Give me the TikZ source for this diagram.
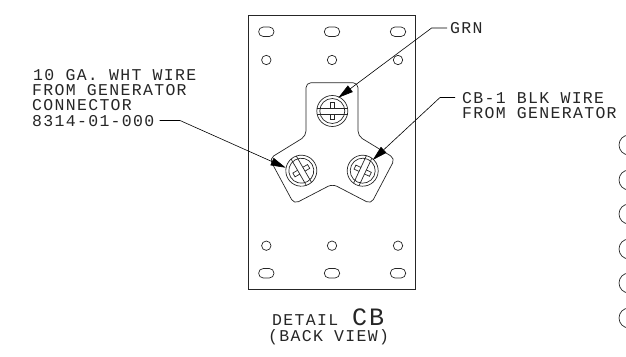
\documentclass[tikz,border=0pt]{standalone}
\usepackage{fontspec}
\setmainfont{Liberation Mono}[LetterSpace=8]
\usetikzlibrary{arrows.meta}
\tikzset{
	part/.style={line width=0.7pt, black!85},
	slot/.style={part, rounded corners=4.7pt},
	label/.style={anchor=base west, inner sep=0pt, font=\fontsize{16.5}{16.5}\selectfont, text=black!85},
	leader/.style={line width=0.6pt, -{Triangle[length=15pt,width=8pt]}},
	screw/.pic={
		\draw[part] (0,0) circle (15.5);
		\draw[part] (0,0) circle (12.5);
		\draw[part] (-15.2,-3) -- (15.2,-3);
		\draw[part] (-15.2,3) -- (15.2,3);
		\draw[part] (-2.2,-3) -- (-2.2,-8.5) -- (2.2,-8.5) -- (2.2,-3);
		\draw[part] (-2.2,3) -- (-2.2,8.5) -- (2.2,8.5) -- (2.2,3);
	}
}
\begin{document}
\begin{tikzpicture}[x=1pt, y=-1pt]
	\useasboundingbox (0,0) rectangle (626,356);

	% plate
	\draw[part] (248,15.5) rectangle (415.5,289.5);

	\draw[slot] (258.6,27) rectangle (274,36.5);
	\draw[slot] (324.3,27) rectangle (339.7,36.5);
	\draw[slot] (390.3,27) rectangle (405.7,36.5);
	\draw[part] (266.3,60) circle (4.7);
	\draw[part] (332,60) circle (4.7);
	\draw[part] (398,60) circle (4.7);

	\draw[part] (266.3,245.7) circle (4.7);
	\draw[part] (332,245.7) circle (4.7);
	\draw[part] (398,245.7) circle (4.7);
	\draw[slot] (258.6,268.5) rectangle (274,278);
	\draw[slot] (324.3,268.5) rectangle (339.7,278);
	\draw[slot] (390.3,268.5) rectangle (405.7,278);

	% bracket
	\draw[part, rounded corners=5pt] (306,82.7) -- (358,82.7) -- (358,136)
		-- (395,158.5) -- (371,204) -- (332.5,184) -- (294,204)
		-- (269.5,158.5) -- (306,136) -- cycle;

	\pic at (332.3,111) {screw};
	\pic[rotate=-60] at (301.3,170.7) {screw};
	\pic[rotate=65] at (362.7,170.7) {screw};

	% labels
	\node[label] (wirea) at (33,80) {10 GA. WHT WIRE};
	\node[label] (wireb) at (32,95) {FROM GENERATOR};
	\node[label] (wirec) at (32,110) {CONNECTOR};
	\node[label] (wired) at (32,126) {8314-01-000};
	\node[label] (grn) at (450,33) {GRN};
	\node[label] (blka) at (462,103.3) {CB-1 BLK WIRE};
	\node[label] (blkb) at (462,118.3) {FROM GENERATOR};
	\node[label] (detail) at (272,325) {DETAIL};
	\node[label, font=\fontsize{25}{25}\selectfont] (cb) at (352,325) {CB};
	\node[label] (back) at (268,341) {(BACK VIEW)};

	% leaders
	\coordinate (wireknee) at (180,120.5);
	\coordinate (wiretip) at (285.7,167.7);
	\coordinate (grnknee) at (431.6,28);
	\coordinate (grntip) at (338.3,97.7);
	\coordinate (blkknee) at (440,97.5);
	\coordinate (blktip) at (372.7,160);
	\draw[leader] (wired.east |- wireknee) ++(5,0) -- (wireknee) -- (wiretip);
	\draw[leader] (grn.west |- grnknee) ++(-3,0) -- (grnknee) -- (grntip);
	\draw[leader] (blka.west |- blkknee) ++(-7,0) -- (blkknee) -- (blktip);

	% circles at the edge
	\draw[part] (629,145) circle (10);
	\draw[part] (629,180) circle (10);
	\draw[part] (629,214) circle (10);
	\draw[part] (629,249) circle (10);
	\draw[part] (629,283) circle (10);
	\draw[part] (629,318) circle (10);
\end{tikzpicture}
\end{document}
